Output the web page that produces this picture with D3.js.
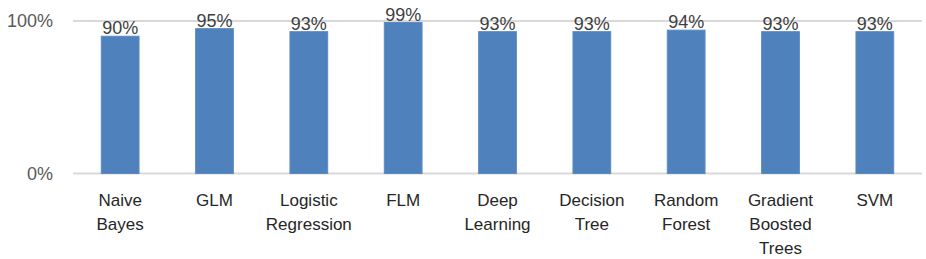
<!DOCTYPE html>
<html lang="en">
<head>
    <meta charset="UTF-8">
    <title>Model accuracy</title>
    <script src="https://d3js.org/d3.v7.min.js"></script>
    <style>
        body { margin: 0; background: #fff; }
        text { font-family: "Liberation Sans", Arial, sans-serif; }
    </style>
</head>
<body>
    <div id="chart"></div>
    <script>
        const categories = [
            ["Naive", "Bayes"],
            ["GLM"],
            ["Logistic", "Regression"],
            ["FLM"],
            ["Deep", "Learning"],
            ["Decision", "Tree"],
            ["Random", "Forest"],
            ["Gradient", "Boosted", "Trees"],
            ["SVM"]
        ];
        const values = [0.90, 0.95, 0.93, 0.99, 0.93, 0.93, 0.94, 0.93, 0.93];
        const yTicks = [0, 1];

        const width = 926, height = 259;
        const margin = { top: 21, right: 4, bottom: 85.5, left: 73 };

        const svg = d3.select("#chart").append("svg")
            .attr("width", width)
            .attr("height", height);

        const keys = categories.map(d => d.join(" "));

        const x = d3.scaleBand()
            .domain(keys)
            .range([margin.left, width - margin.right])
            .paddingInner(0.6)
            .paddingOuter(0.3);

        const y = d3.scaleLinear()
            .domain([0, 1])
            .range([height - margin.bottom, margin.top]);

        // gridlines
        svg.append("g")
            .selectAll("line")
            .data(yTicks)
            .join("line")
            .attr("x1", margin.left)
            .attr("x2", width - margin.right)
            .attr("y1", d => y(d))
            .attr("y2", d => y(d))
            .attr("stroke", "#d9d9d9")
            .attr("stroke-width", 2);

        // y axis labels
        const yAxis = svg.append("g")
            .attr("transform", "translate(" + (margin.left - 20) + ",0)")
            .call(d3.axisLeft(y).tickValues(yTicks).tickFormat(d3.format(".0%")).tickSize(0).tickPadding(0));
        yAxis.select(".domain").remove();
        yAxis.selectAll("text")
            .attr("font-size", 18)
            .attr("font-family", "Liberation Sans, Arial, sans-serif")
            .attr("fill", "#595959");

        // bars
        svg.append("g")
            .selectAll("rect")
            .data(values)
            .join("rect")
            .attr("x", (d, i) => x(keys[i]))
            .attr("y", d => y(d))
            .attr("width", x.bandwidth())
            .attr("height", d => y(0) - y(d))
            .attr("fill", "#4f81bd")
            .attr("stroke", "#5a8ac4")
            .attr("stroke-width", 1);

        // value labels
        svg.append("g")
            .selectAll("text")
            .data(values)
            .join("text")
            .attr("x", (d, i) => x(keys[i]) + x.bandwidth() / 2)
            .attr("y", d => y(d) - 2)
            .attr("text-anchor", "middle")
            .attr("font-size", 18)
            .attr("fill", "#404040")
            .text(d => d3.format(".0%")(d));

        // category labels
        const cat = svg.append("g")
            .selectAll("text")
            .data(categories)
            .join("text")
            .attr("text-anchor", "middle")
            .attr("font-size", 17)
            .attr("fill", "#262626")
            .attr("x", (d, i) => x(keys[i]) + x.bandwidth() / 2)
            .attr("y", 206);
        cat.selectAll("tspan")
            .data(d => d)
            .join("tspan")
            .attr("x", function () { return this.parentNode.getAttribute("x"); })
            .attr("dy", (d, i) => i === 0 ? 0 : 24)
            .text(d => d);
    </script>
</body>
</html>
